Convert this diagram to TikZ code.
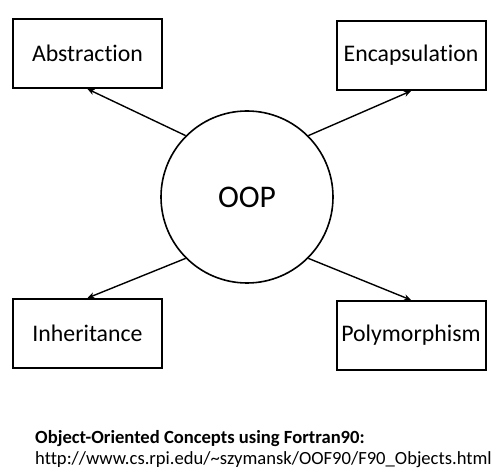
\documentclass[tikz,border=0pt]{standalone}
\usepackage{fontspec}
\setmainfont[Ligatures=NoCommon]{Carlito}
\usetikzlibrary{arrows.meta}

\tikzset{
  concept/.style={draw=black, line width=2pt, minimum width=149pt, minimum height=69pt,
    inner sep=0pt, font=\fontsize{23.8}{28}\selectfont},
  hub/.style={draw=black, line width=1.6pt, circle, minimum size=172pt, inner sep=0pt,
    font=\fontsize{31.5}{36}\selectfont},
  link/.style={line width=1.4pt, -{Stealth[length=7pt,width=6pt]}}
}

\begin{document}
\begin{tikzpicture}[x=1pt, y=-1pt]
  \useasboundingbox (0,0) rectangle (504,476);

  \node[hub] (oop) at (247,197) {OOP};

  \node[concept] (abs) at (87.5,53.5) {Abstraction};
  \node[concept] (enc) at (411,55.5) {Encapsulation};
  \node[concept] (inh) at (87.5,333.5) {Inheritance};
  \node[concept] (poly) at (411,335.5) {Polymorphism};

  \draw[link] (oop.135) -- (abs.south);
  \draw[link] (oop.45) -- (enc.south);
  \draw[link] (oop.225) -- (inh.north);
  \draw[link] (oop.-45) -- (poly.north);

  % source note
  \node[anchor=base west, inner sep=0pt, font=\fontsize{18.6}{22}\selectfont\bfseries] (note) at (35,443) {Object-Oriented Concepts using Fortran90:};
  \node[anchor=base west, inner sep=0pt, font=\fontsize{18.6}{22}\selectfont] (url) at (35,464) {http://www.cs.rpi.edu/\textasciitilde szymansk/OOF90/F90\_Objects.html};
\end{tikzpicture}
\end{document}
